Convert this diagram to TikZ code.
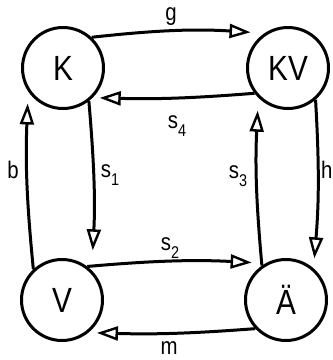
\documentclass[tikz,border=0pt]{standalone}
\usepackage{fontspec}
\newfontfamily\dinfont{Liberation Sans}[FakeStretch=0.85]
\usetikzlibrary{positioning, arrows.meta}
\newcommand{\idx}[1]{\raisebox{-8pt}{\fontsize{17}{17}\selectfont #1}}

\begin{document}
\begin{tikzpicture}[x=1pt, y=1pt,
        state/.style={circle, draw, line width=3pt, minimum size=81pt,
            inner sep=0pt, font=\dinfont\fontsize{35}{35}\selectfont},
        flow/.style={line width=3pt,
            -{Triangle[open, length=21pt, width=14pt, line width=2.4pt]}},
        lbl/.style={anchor=base, inner sep=0pt,
            font=\dinfont\fontsize{24}{24}\selectfont}
    ]
    \useasboundingbox (0,0) rectangle (333,-360);

    \node[state] (K) at (63,-68) {K};
    \node[state] (KV) at (288,-68) {KV};
    \node[state] (V) at (62,-300) {V};
    \node[state] (AE) at (286,-300) {Ä};

    % horizontal flows
    \draw[flow, shorten >=14pt] (K.47) to[bend left=5] (KV.124);
    \draw[flow, shorten >=7pt] (KV.217) to[bend left=3] (K.-45);
    \draw[flow, shorten >=14pt] (V.53) to[bend left=4] (AE.119);
    \draw[flow, shorten >=8.5pt] (AE.223) to[bend left=3] (V.-51);

    % vertical flows
    \draw[flow, shorten >=20pt] (K.308) to[bend left=4] (V.45);
    \draw[flow, shorten >=12pt] (V.133) to[bend left=4] (K.214);
    \draw[flow, shorten >=13pt] (AE.125) to[bend left=4] (KV.225);
    \draw[flow, shorten >=10pt] (KV.311) to[bend left=4] (AE.49);

    \node[lbl] (lg) at (171,-20) {g};
    \node[lbl] (ls4) at (177,-128) {s\idx{4}};
    \node[lbl] (ls1) at (110,-177) {s\idx{1}};
    \node[lbl] (lb) at (13,-178) {b};
    \node[lbl] (ls3) at (238,-178) {s\idx{3}};
    \node[lbl, anchor=base west] (lh) at (321,-178) {h};
    \node[lbl] (ls2) at (170,-250) {s\idx{2}};
    \node[lbl] (lm) at (169,-354) {m};
\end{tikzpicture}
\end{document}
